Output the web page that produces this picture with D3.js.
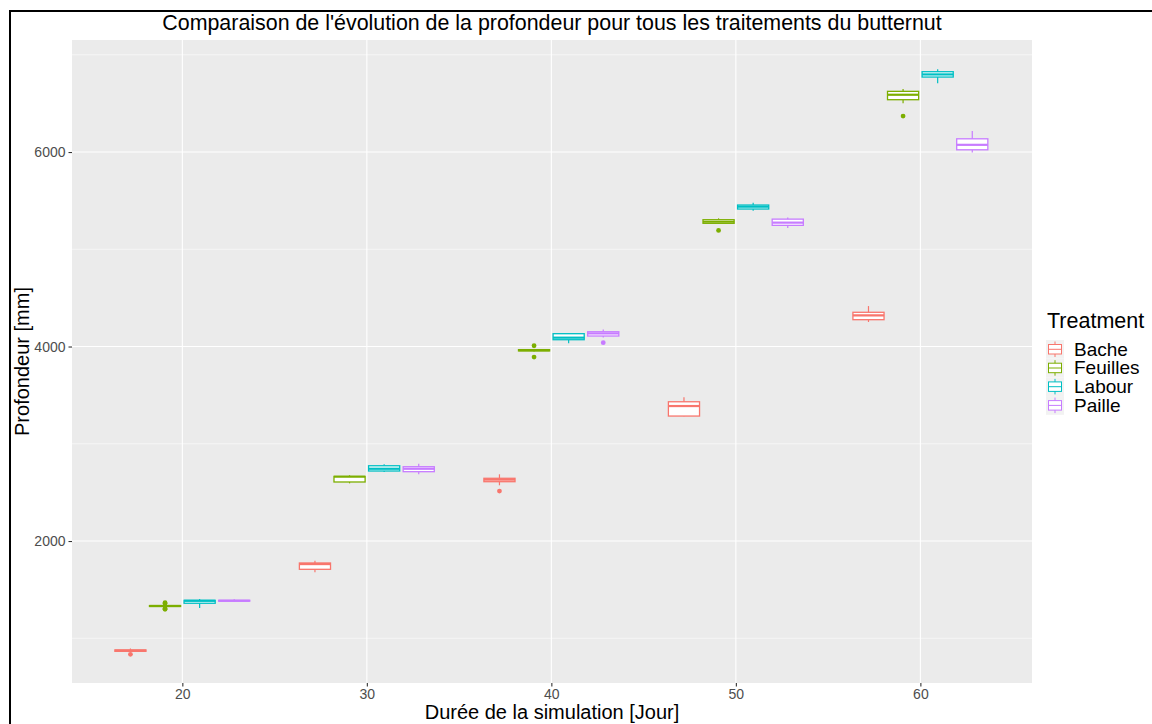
<!DOCTYPE html>
<html>
<head>
<meta charset="utf-8">
<script src="https://cdn.jsdelivr.net/npm/d3@7"></script>
<style>
  html, body { margin: 0; padding: 0; background: #ffffff; }
  svg { display: block; font-family: "Liberation Sans", Arial, Helvetica, sans-serif; }
</style>
</head>
<body>
<svg id="chart" width="1152" height="724"></svg>
<script>
// Simulation days (group centres on the x axis)
const days = [20, 30, 40, 50, 60];
const treatments = ["Bache", "Feuilles", "Labour", "Paille"];
const colors = ["#F8766D", "#7CAE00", "#00BFC4", "#C77CFF"];

// Box statistics per treatment, one entry per day: [lower whisker, Q1, median, Q3, upper whisker]
const bacheStats = [
  [858, 866, 872, 880, 895],
  [1678, 1709, 1763, 1774, 1797],
  [2573, 2610, 2630, 2645, 2686],
  [3282, 3285, 3388, 3432, 3478],
  [4252, 4276, 4321, 4352, 4416]
];
const feuillesStats = [
  [1320, 1327, 1332, 1336, 1345],
  [2593, 2607, 2661, 2665, 2676],
  [3950, 3955, 3962, 3968, 3975],
  [5262, 5267, 5283, 5304, 5318],
  [6501, 6538, 6589, 6624, 6648]
];
const labourStats = [
  [1311, 1360, 1385, 1390, 1404],
  [2710, 2720, 2743, 2774, 2789],
  [4033, 4070, 4091, 4132, 4135],
  [5396, 5414, 5438, 5455, 5479],
  [6706, 6771, 6798, 6826, 6850]
];
const pailleStats = [
  [1378, 1382, 1386, 1390, 1400],
  [2686, 2713, 2743, 2764, 2795],
  [4094, 4108, 4135, 4152, 4176],
  [5218, 5246, 5274, 5310, 5328],
  [5996, 6023, 6074, 6136, 6215]
];

// Outlying values per treatment, one list per day
const bacheOutliers = [[835], [], [2514], [], []];
const feuillesOutliers = [[1366, 1358, 1306, 1298], [], [4008, 3892], [5194], [6370]];
const labourOutliers = [[], [], [], [], []];
const pailleOutliers = [[], [], [4040], [], []];

const xTicks = [20, 30, 40, 50, 60];
const yTicks = [2000, 4000, 6000];
const yMinor = [1000, 3000, 5000, 7000];

const titleText = "Comparaison de l'évolution de la profondeur pour tous les traitements du butternut";
const xTitle = "Durée de la simulation [Jour]";
const yTitle = "Profondeur [mm]";
const legendTitle = "Treatment";

const statsByTreatment = [bacheStats, feuillesStats, labourStats, pailleStats];
const outliersByTreatment = [bacheOutliers, feuillesOutliers, labourOutliers, pailleOutliers];

const svg = d3.select("#chart");

// Panel geometry
const panel = { left: 72, right: 1032, top: 40, bottom: 683 };

const x = d3.scaleLinear().domain([14.02, 66.05]).range([panel.left, panel.right]);
const y = d3.scaleLinear().domain([540, 7152]).range([panel.bottom, panel.top]);

// Dodge layout: four boxes per day
const dodgeWidth = 7.5;
const slot = dodgeWidth / treatments.length;
const boxWidth = slot * 0.9;

// Outer frame
svg.append("rect")
  .attr("x", 10).attr("y", 11)
  .attr("width", 1160).attr("height", 740)
  .attr("fill", "none").attr("stroke", "#000").attr("stroke-width", 2);

// Panel background
svg.append("rect")
  .attr("x", panel.left).attr("y", panel.top)
  .attr("width", panel.right - panel.left).attr("height", panel.bottom - panel.top)
  .attr("fill", "#EBEBEB");

const grid = svg.append("g");
// Minor grid
grid.selectAll("line.ymin").data(yMinor).enter().append("line")
  .attr("x1", panel.left).attr("x2", panel.right)
  .attr("y1", d => y(d)).attr("y2", d => y(d))
  .attr("stroke", "#fff").attr("stroke-width", 0.55);
// Major grid
grid.selectAll("line.ymaj").data(yTicks).enter().append("line")
  .attr("x1", panel.left).attr("x2", panel.right)
  .attr("y1", d => y(d)).attr("y2", d => y(d))
  .attr("stroke", "#fff").attr("stroke-width", 1.1);
grid.selectAll("line.xmaj").data(xTicks).enter().append("line")
  .attr("y1", panel.top).attr("y2", panel.bottom)
  .attr("x1", d => x(d)).attr("x2", d => x(d))
  .attr("stroke", "#fff").attr("stroke-width", 1.1);

// Axes
const xAxis = svg.append("g")
  .attr("transform", `translate(0,${panel.bottom})`)
  .call(d3.axisBottom(x).tickValues(xTicks).tickSize(3.5).tickPadding(3).tickFormat(d3.format("d")));
const yAxis = svg.append("g")
  .attr("transform", `translate(${panel.left},0)`)
  .call(d3.axisLeft(y).tickValues(yTicks).tickSize(3.5).tickPadding(3).tickFormat(d3.format("d")));
[xAxis, yAxis].forEach(a => {
  a.select(".domain").remove();
  a.selectAll(".tick line").attr("stroke", "#333333").attr("stroke-width", 1.1);
  a.selectAll(".tick text").attr("fill", "#4D4D4D").style("font-size", "14px")
    .style("font-family", "'Liberation Sans', Arial, sans-serif");
});

// Boxplots
const plot = svg.append("g");
treatments.forEach((t, ti) => {
  const col = colors[ti];
  const offset = (ti - (treatments.length - 1) / 2) * slot;
  days.forEach((day, di) => {
    const [lo, q1, med, q3, hi] = statsByTreatment[ti][di];
    const cx = x(day + offset);
    const x0 = x(day + offset - boxWidth / 2);
    const x1 = x(day + offset + boxWidth / 2);
    const g = plot.append("g");
    // whiskers
    g.append("line").attr("x1", cx).attr("x2", cx).attr("y1", y(hi)).attr("y2", y(q3))
      .attr("stroke", col).attr("stroke-width", 1.2);
    g.append("line").attr("x1", cx).attr("x2", cx).attr("y1", y(q1)).attr("y2", y(lo))
      .attr("stroke", col).attr("stroke-width", 1.2);
    // box
    g.append("rect")
      .attr("x", x0).attr("y", y(q3))
      .attr("width", x1 - x0).attr("height", Math.max(0, y(q1) - y(q3)))
      .attr("fill", "#fff").attr("stroke", col).attr("stroke-width", 1.3);
    // median
    g.append("line").attr("x1", x0).attr("x2", x1).attr("y1", y(med)).attr("y2", y(med))
      .attr("stroke", col).attr("stroke-width", 2.2);
    // outliers
    g.selectAll("circle").data(outliersByTreatment[ti][di]).enter().append("circle")
      .attr("cx", cx).attr("cy", d => y(d)).attr("r", 2.4).attr("fill", col);
  });
});

// Title and axis titles
svg.append("text")
  .attr("x", 552).attr("y", 30)
  .attr("text-anchor", "middle").attr("fill", "#000")
  .style("font-size", "21.4px").text(titleText);
svg.append("text")
  .attr("x", (panel.left + panel.right) / 2).attr("y", 719)
  .attr("text-anchor", "middle").attr("fill", "#000")
  .style("font-size", "20px").text(xTitle);
svg.append("text")
  .attr("transform", `translate(29,${(panel.top + panel.bottom) / 2}) rotate(-90)`)
  .attr("text-anchor", "middle").attr("fill", "#000")
  .style("font-size", "20px").text(yTitle);

// Legend
const legend = svg.append("g").attr("transform", "translate(1046,0)");
legend.append("text")
  .attr("x", 1).attr("y", 328)
  .attr("fill", "#000").style("font-size", "21.5px").text(legendTitle);
treatments.forEach((t, ti) => {
  const ky = 340 + ti * 18.7;
  const col = colors[ti];
  const k = legend.append("g").attr("transform", `translate(0,${ky})`);
  k.append("rect").attr("x", 0).attr("y", 0).attr("width", 18).attr("height", 18.7).attr("fill", "#F2F2F2");
  k.append("line").attr("x1", 9).attr("x2", 9).attr("y1", 1.5).attr("y2", 17)
    .attr("stroke", col).attr("stroke-width", 1);
  k.append("rect").attr("x", 2.5).attr("y", 4.5).attr("width", 13).attr("height", 9.5)
    .attr("fill", "#fff").attr("stroke", col).attr("stroke-width", 1);
  k.append("line").attr("x1", 2.5).attr("x2", 15.5).attr("y1", 9.3).attr("y2", 9.3)
    .attr("stroke", col).attr("stroke-width", 1);
  legend.append("text")
    .attr("x", 28).attr("y", ky + 15.5)
    .attr("fill", "#000").style("font-size", "19px").text(t);
});
</script>
</body>
</html>
